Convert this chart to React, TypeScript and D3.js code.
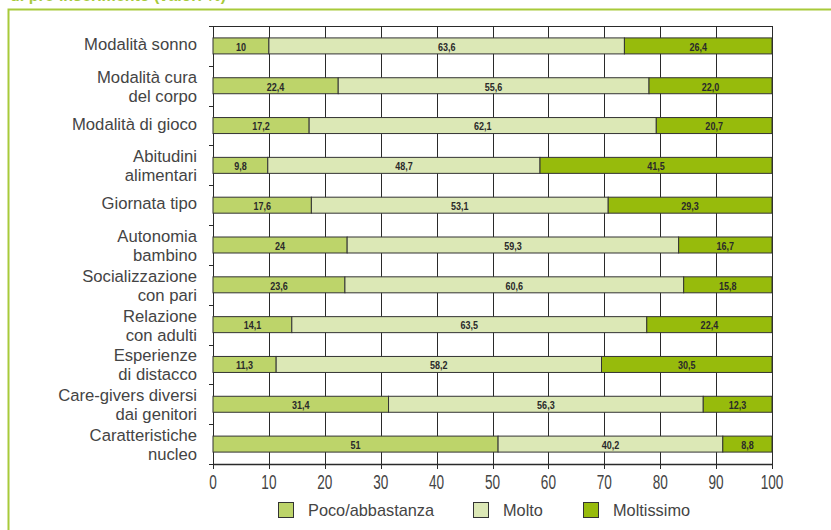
import React, { useEffect, useRef } from 'react';
import * as d3 from 'd3';

const categories = [
  ['Modalità sonno'],
  ['Modalità cura', 'del corpo'],
  ['Modalità di gioco'],
  ['Abitudini', 'alimentari'],
  ['Giornata tipo'],
  ['Autonomia', 'bambino'],
  ['Socializzazione', 'con pari'],
  ['Relazione', 'con adulti'],
  ['Esperienze', 'di distacco'],
  ['Care-givers diversi', 'dai genitori'],
  ['Caratteristiche', 'nucleo'],
];

// labels as printed on the bars (Italian decimal comma)
const poco = ['10', '22,4', '17,2', '9,8', '17,6', '24', '23,6', '14,1', '11,3', '31,4', '51'];
const molto = ['63,6', '55,6', '62,1', '48,7', '53,1', '59,3', '60,6', '63,5', '58,2', '56,3', '40,2'];
const moltissimo = ['26,4', '22,0', '20,7', '41,5', '29,3', '16,7', '15,8', '22,4', '30,5', '12,3', '8,8'];

const seriesNames = ['Poco/abbastanza', 'Molto', 'Moltissimo'];
const seriesColors = ['#bdd46a', '#dce8b6', '#97bb0c'];
const xTicks = [0, 10, 20, 30, 40, 50, 60, 70, 80, 90, 100];

const num = (s: string) => parseFloat(s.replace(',', '.'));
const FONT = 'Liberation Sans, Arial, sans-serif';

export default function App() {
  const svgRef = useRef<SVGSVGElement>(null);

  useEffect(() => {
    if (!svgRef.current) return;
    const svg = d3.select(svgRef.current);
    svg.selectAll('*').remove();

    const W = 831, H = 530;
    const left = 213, right = 772, top = 26, bottom = 464;
    const green = '#a8ca3a';

    // condensed look: squeeze the text horizontally
    const narrow = (sel: any, tx: number, ty: number, sx: number) =>
      sel.append('text').attr('transform', `translate(${tx},${ty}) scale(${sx},1)`);

    // frame + clipped title
    svg.append('text')
      .attr('x', 10).attr('y', 1)
      .attr('font-family', FONT)
      .attr('font-size', 16).attr('font-weight', 'bold')
      .attr('fill', green)
      .text('di pre-inserimento (valori %)');
    svg.append('path')
      .attr('d', `M${W},9.5 H8.5 V${H}`)
      .attr('fill', 'none').attr('stroke', green).attr('stroke-width', 2);

    const x = d3.scaleLinear().domain([0, 100]).range([left, right]);
    const y = d3.scaleBand<number>()
      .domain(d3.range(categories.length))
      .range([top, bottom]);
    const barH = 16;

    // grid
    const g = svg.append('g');
    g.selectAll('line.grid')
      .data(xTicks)
      .enter().append('line')
      .attr('x1', d => Math.round(x(d)) + 0.5).attr('x2', d => Math.round(x(d)) + 0.5)
      .attr('y1', top).attr('y2', bottom)
      .attr('stroke', '#2a2a2a').attr('stroke-width', 1);
    g.append('line')
      .attr('x1', left).attr('x2', right + 0.5)
      .attr('y1', top + 0.5).attr('y2', top + 0.5)
      .attr('stroke', '#2a2a2a');

    // y-axis ticks at band edges
    g.selectAll('line.ytick')
      .data(d3.range(categories.length + 1))
      .enter().append('line')
      .attr('x1', left - 4).attr('x2', left)
      .attr('y1', d => Math.round(top + d * y.step()) + 0.5)
      .attr('y2', d => Math.round(top + d * y.step()) + 0.5)
      .attr('stroke', '#2a2a2a');

    // stacked bars
    const rows = categories.map((c, i) => {
      const vals = [num(poco[i]), num(molto[i]), num(moltissimo[i])];
      const labels = [poco[i], molto[i], moltissimo[i]];
      let acc = 0;
      return vals.map((v, k) => {
        const seg = { i, k, x0: acc, x1: acc + v, label: labels[k] };
        acc += v;
        return seg;
      });
    });
    const segs = rows.flat();

    g.selectAll('rect.bar')
      .data(segs)
      .enter().append('rect')
      .attr('x', d => x(d.x0))
      .attr('y', d => y(d.i)! + y.bandwidth() / 2 - barH / 2)
      .attr('width', d => x(Math.min(d.x1, 100)) - x(d.x0))
      .attr('height', barH)
      .attr('fill', d => seriesColors[d.k])
      .attr('stroke', '#333')
      .attr('stroke-width', 1);

    segs.forEach(d => {
      narrow(g, (x(d.x0) + x(Math.min(d.x1, 100))) / 2, y(d.i)! + y.bandwidth() / 2 + 1, 0.82)
        .attr('dy', '0.35em')
        .attr('text-anchor', 'middle')
        .attr('font-family', FONT)
        .attr('font-size', 11).attr('font-weight', 'bold')
        .attr('fill', '#2a2a2a')
        .text(d.label);
    });

    // category labels
    categories.forEach((lines, i) => {
      const cy = y(i)! + y.bandwidth() / 2;
      const offs = lines.length === 1 ? [-2] : [-9, 10];
      lines.forEach((t, j) => {
        narrow(g, 197, cy + offs[j], 0.98)
          .attr('dy', '0.35em')
          .attr('text-anchor', 'end')
          .attr('font-family', FONT)
          .attr('font-size', 17)
          .attr('fill', '#444')
          .text(t);
      });
    });

    // x axis
    const ax = svg.append('g').attr('transform', `translate(0,${bottom})`);
    ax.append('line')
      .attr('x1', left).attr('x2', right + 1)
      .attr('y1', 0.5).attr('y2', 0.5)
      .attr('stroke', '#2a2a2a').attr('stroke-width', 1.5);
    ax.selectAll('line.tick')
      .data(xTicks)
      .enter().append('line')
      .attr('x1', d => Math.round(x(d)) + 0.5).attr('x2', d => Math.round(x(d)) + 0.5)
      .attr('y1', 0).attr('y2', 5)
      .attr('stroke', '#2a2a2a');
    xTicks.forEach(d => {
      narrow(ax, x(d), 18, 0.68)
        .attr('dy', '0.35em')
        .attr('text-anchor', 'middle')
        .attr('font-family', FONT)
        .attr('font-size', 20)
        .attr('fill', '#444')
        .text(d);
    });

    // legend
    const legendX = [278, 473, 583];
    const leg = svg.append('g').attr('transform', 'translate(0,502)');
    seriesNames.forEach((name, k) => {
      leg.append('rect')
        .attr('x', legendX[k] + 0.5).attr('y', 0.5)
        .attr('width', 15).attr('height', 15)
        .attr('fill', seriesColors[k])
        .attr('stroke', '#333');
      narrow(leg, legendX[k] + 30, 8, 0.96)
        .attr('dy', '0.35em')
        .attr('font-family', FONT)
        .attr('font-size', 17)
        .attr('fill', '#444')
        .text(name);
    });
  }, []);

  return (
    <svg
      ref={svgRef}
      width={831}
      height={530}
      style={{ position: 'absolute', left: 0, top: 0, background: '#fff' }}
    />
  );
}
